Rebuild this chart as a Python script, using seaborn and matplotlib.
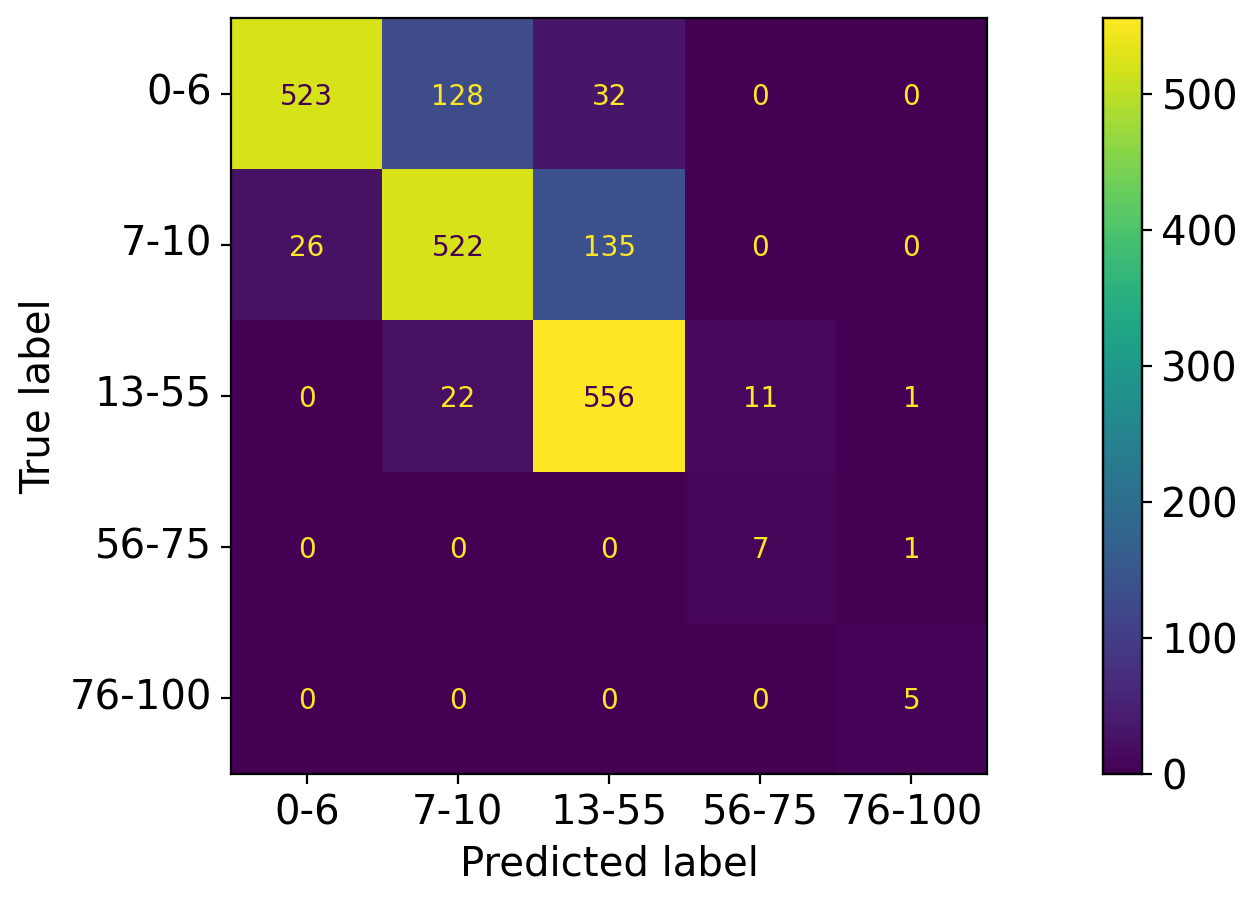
import numpy as np
import pandas as pd
import matplotlib
matplotlib.use("Agg")
import matplotlib.pyplot as plt
import seaborn as sns

# classes and confusion matrix counts
labels = ["0-6", "7-10", "13-55", "56-75", "76-100"]
row_0_6 = [523, 128, 32, 0, 0]
row_7_10 = [26, 522, 135, 0, 0]
row_13_55 = [0, 22, 556, 11, 1]
row_56_75 = [0, 0, 0, 7, 1]
row_76_100 = [0, 0, 0, 0, 5]

cm = pd.DataFrame([row_0_6, row_7_10, row_13_55, row_56_75, row_76_100],
                  index=labels, columns=labels)

plt.rcParams['font.family'] = ['DejaVu Sans']
fig = plt.figure(figsize=(6.28, 4.525), dpi=200)
ax = fig.add_axes([0.1840, 0.1448, 0.6019, 0.8354])
cax = fig.add_axes([0.8782, 0.1448, 0.031, 0.8354])

cmap = plt.get_cmap("viridis")
vmin, vmax = cm.values.min(), cm.values.max()
sns.heatmap(cm, ax=ax, cbar_ax=cax, cmap=cmap, vmin=vmin, vmax=vmax,
            annot=False, square=False)

# text colour like sklearn: light text on dark cells, dark on light
thresh = (vmax + vmin) / 2.0
for i in range(len(labels)):
    for j in range(len(labels)):
        v = cm.values[i, j]
        col = cmap(0.0) if v >= thresh else cmap(1.0)
        ax.text(j + 0.5, i + 0.52, str(v), ha="center", va="center",
                color=col, fontsize=10)

for s in ax.spines.values():
    s.set_visible(True)
    s.set_linewidth(0.8)
ax.tick_params(labelsize=14.5, length=3.5, width=0.8)
ax.set_xticklabels(labels, rotation=0)
ax.set_yticklabels(labels, rotation=0)
ax.set_xlabel("Predicted label", fontsize=14.5)
ax.set_ylabel("True label", fontsize=14.5)

cax.tick_params(labelsize=14.5, length=3.5, width=0.8)
cax.set_yticks([0, 100, 200, 300, 400, 500])
for s in cax.spines.values():
    s.set_visible(True)
    s.set_linewidth(0.8)

fig.savefig("out.png", dpi=200)
